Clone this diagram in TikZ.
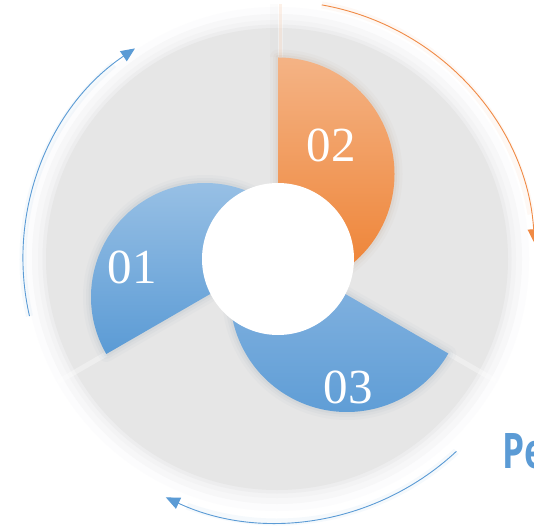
\documentclass[tikz,border=0pt]{standalone}
\usepackage{fontspec}
\setmainfont{Liberation Serif}
\newfontfamily\pefont{Open Sans}
\usetikzlibrary{arrows.meta}
\definecolor{blueA}{HTML}{9DC3E6}
\definecolor{blueB}{HTML}{5B9BD5}
\definecolor{blueC}{HTML}{8DB8E2}
\definecolor{orA}{HTML}{F4B385}
\definecolor{orB}{HTML}{EE8030}
\definecolor{diskgray}{HTML}{E6E6E6}
\definecolor{haloA}{HTML}{EDEDEE}
\definecolor{haloB}{HTML}{F3F3F4}
\definecolor{haloC}{HTML}{F7F7F8}
\definecolor{haloD}{HTML}{FCFCFD}
\definecolor{orarrow}{HTML}{F08A45}
\begin{document}
\begin{tikzpicture}[x=1pt,y=1pt,
  numtext/.style={text=white,font=\fontsize{49}{49}\selectfont,inner sep=0pt},
  arrowline/.style={line width=0.9pt,-{Triangle[length=14pt,width=12pt]}},
  arrowglow/.style={line width=7pt,opacity=0.06},
  rayline/.style={white,line width=5pt,opacity=0.35},
  secone/.style={insert path={(o1) -- ++(210:114) arc[start angle=210,end angle=30,radius=114] -- cycle}},
  sectwo/.style={insert path={(o2) -- ++(90:116.5) arc[start angle=90,end angle=-90,radius=116.5] -- cycle}},
  secthree/.style={insert path={(o3) -- ++(330:117) arc[start angle=330,end angle=150,radius=117] -- cycle}},
]
\useasboundingbox (0,0) rectangle (534,530);
\clip (0,0) rectangle (534,530);
\fill[white] (0,0) rectangle (534,530);

\coordinate (c) at (277,271);
\coordinate (o1) at (205,233);
\coordinate (o2) at (278,356);
\coordinate (o3) at (347,235);
\coordinate (w) at (278,271);

% halo of the disc
\fill[haloD] (c) circle (252);
\fill[haloC] (c) circle (245);
\fill[haloB] (c) circle (239);
\fill[haloA] (c) circle (234.5);
\fill[diskgray] (c) circle (231);

% rays beyond the sector edges
\coordinate (r2a) at ([shift={(90:116.5)}]o2);
\coordinate (r2b) at ([shift={(90:170)}]o2);
\coordinate (r1a) at ([shift={(210:114)}]o1);
\coordinate (r1b) at ([shift={(210:170)}]o1);
\coordinate (r3a) at ([shift={(330:117)}]o3);
\coordinate (r3b) at ([shift={(330:172)}]o3);
\draw[black,line width=8pt,opacity=0.012] ([xshift=-4pt]r2a) -- ([xshift=-4pt]r2b);
\draw[rayline] ([xshift=2.5pt]r2a) -- ([xshift=2.5pt]r2b);
\draw[orA,line width=3pt,opacity=0.18] ([xshift=2.5pt]r2a) -- ([xshift=2.5pt]r2b);
\draw[rayline] (r1a) -- (r1b);
\draw[rayline] (r3a) -- (r3b);

% soft shadows of the sectors
\foreach \lw/\op in {16/0.035,10/0.05,5/0.07}{
  \draw[line width=\lw pt,color=blueB!40!gray,opacity=\op,line join=round,secone];
  \draw[line width=\lw pt,color=orB!40!gray,opacity=\op,line join=round,sectwo];
  \draw[line width=\lw pt,color=blueB!40!gray,opacity=\op,line join=round,secthree];
}

% sectors
\shade[top color=blueA,bottom color=blueB,secone];
\shade[top color=orA,bottom color=orB,sectwo];
\shade[top color=blueC,bottom color=blueB,secthree];

% central white disc
\fill[white] (w) circle (76);

% labels
\node[numtext] (n01) at (132,263) {01};
\node[numtext] (n02) at (331,385) {02};
\node[numtext] (n03) at (348,143) {03};

% arrows
\coordinate (a1s) at ([shift={(193:254)}]c);
\coordinate (a2s) at ([shift={(80:258)}]c);
\coordinate (a3s) at ([shift={(-47:263)}]c);
\draw[blueB,arrowglow] (a1s) arc[start angle=193,end angle=130,radius=254];
\draw[orarrow,arrowglow] (a2s) arc[start angle=80,end angle=10,radius=258];
\draw[blueB,arrowglow] (a3s) arc[start angle=-47,end angle=-110,radius=263];
\draw[blueB,arrowline] (a1s) arc[start angle=193,end angle=124,radius=254];
\draw[orarrow,arrowline] (a2s) arc[start angle=80,end angle=3.5,radius=258];
\draw[blueB,arrowline] (a3s) arc[start angle=-47,end angle=-115,radius=263];

% title, cut off by the right edge as in the reference
\node[anchor=base west,inner sep=0pt,text=blueB,xscale=0.72,
      font=\pefont\bfseries\fontsize{49}{49}\selectfont] (pe) at (502,62) {Pe};
\end{tikzpicture}
\end{document}
